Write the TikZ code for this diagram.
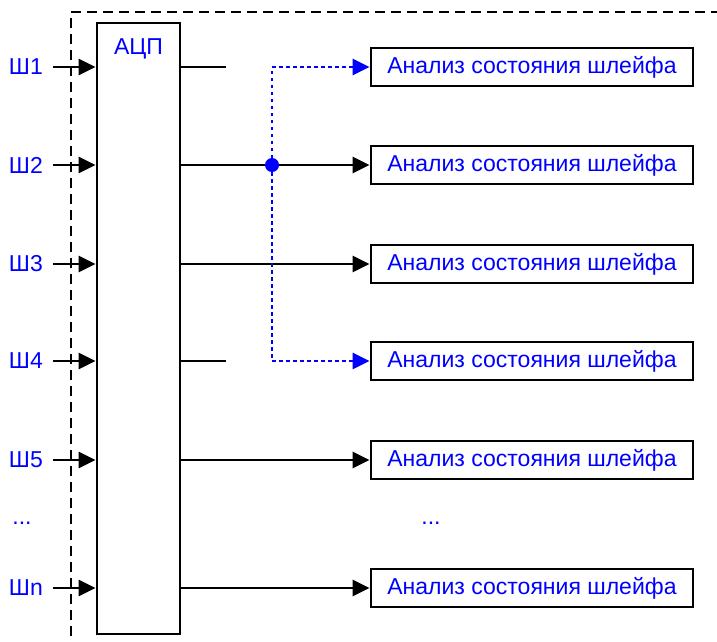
\documentclass[tikz,border=0pt]{standalone}
\usepackage{fontspec}
\setmainfont{Liberation Sans}
\usetikzlibrary{arrows.meta,positioning}

\definecolor{sigblue}{RGB}{0,0,255}

\begin{document}
\begin{tikzpicture}[x=1pt,y=-1pt,
	lbl/.style={text=sigblue,font=\fontsize{23}{26}\selectfont,inner sep=0},
	abox/.style={draw,line width=2.8pt,minimum width=322pt,minimum height=38pt,inner sep=0,
		text=sigblue,font=\fontsize{23}{26}\selectfont},
	sig/.style={line width=2.6pt,-{Triangle[length=17pt,width=16pt]}},
	bluesig/.style={sigblue,line width=2.6pt,dash pattern=on 3.5pt off 3.5pt,-{Triangle[length=17pt,width=16pt]}},
	dot/.style={circle,fill=sigblue,inner sep=0,minimum size=14pt}]

\useasboundingbox (0,0) rectangle (717,641);

\def\xin{53}
\def\xan{532}

% frame of the device
\draw[line width=2.2pt,dash pattern=on 10pt off 6pt] (71,700)--(71,12)--(760,12);

\node[draw,line width=2.8pt,minimum width=83pt,minimum height=611pt,inner sep=0] (adc) at (138.5,328.5) {};
\node[lbl,anchor=north] (adcname) at ([yshift=-17pt]adc.north) {АЦП};

\foreach \i/\y in {1/67,2/165,3/264,4/361,5/460,n/588}
{
	\node[lbl,anchor=east,inner xsep=10pt] (sh\i) at (\xin,\y) {Ш\i};
	\draw[sig] (sh\i.east)--(adc.west |- sh\i);
	\node[abox] (an\i) at (\xan,\y) {Анализ состояния шлейфа};
}

\foreach \i in {2,3,5,n}
	\draw[sig] (adc.east |- an\i)--(an\i.west);

\draw[line width=2.6pt] (adc.east |- an1)--++(45,0);
\draw[line width=2.6pt] (adc.east |- an4)--++(45,0);

\node[dot] (fork) at (272,165) {};
\draw[bluesig] (fork.center) |- (an1.west);
\draw[bluesig] (fork.center) |- (an4.west);

\node[lbl] (dotsl) at (22,523) {...};
\node[lbl] (dotsr) at (431,523) {...};

\end{tikzpicture}
\end{document}
